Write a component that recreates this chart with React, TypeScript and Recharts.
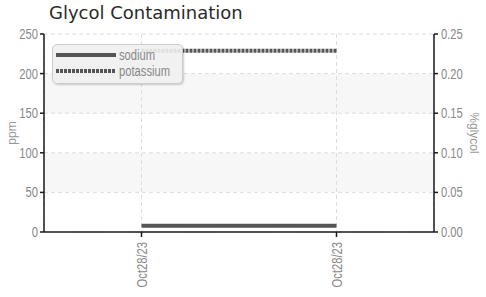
import { LineChart, Line, XAxis, YAxis, CartesianGrid } from 'recharts'

const dates = ['Oct28/23', 'Oct28/23']
const sodium = [8, 8]
const potassium = [229, 229]
const ppmTicks = [0, 50, 100, 150, 200, 250]
const glycolTicks = [0, 0.05, 0.1, 0.15, 0.2, 0.25]

const series = [
  { key: 'sodium', name: 'sodium', dash: undefined as string | undefined },
  { key: 'potassium', name: 'potassium', dash: '3 1' },
]

const data = dates.map((d, i) => ({ idx: i, date: d, sodium: sodium[i], potassium: potassium[i] }))

const tickFont = "'Liberation Sans', Arial, sans-serif"
const squeeze = 0.8
const lineColor = '#555'
const axisColor = '#1a1a1a'

// narrow text: no condensed face installed, so squash a regular one
const NarrowText = ({ x, y, anchor, rotate = 0, children }: any) => (
  <g transform={`translate(${x}, ${y}) rotate(${rotate}) scale(${squeeze}, 1)`}>
    <text x={0} y={0} textAnchor={anchor} fill="#888" fontSize={14} fontFamily={tickFont}>
      {children}
    </text>
  </g>
)

const DateTick = ({ x, y, payload }: any) => (
  <NarrowText x={x + 5} y={y + 3} anchor="end" rotate={-90}>
    {dates[payload.value]}
  </NarrowText>
)

const LeftTick = ({ x, y, payload }: any) => (
  <NarrowText x={x} y={y + 5} anchor="end">
    {payload.value}
  </NarrowText>
)

const RightTick = ({ x, y, payload }: any) => (
  <NarrowText x={x + 1} y={y + 5} anchor="start">
    {Number(payload.value).toFixed(2)}
  </NarrowText>
)

const sideLabel = (text: string, x: number, angle: number) => (props: any) => {
  const vb = props.viewBox
  const cy = vb.y + vb.height / 2
  return (
    <text
      x={x}
      y={cy}
      transform={`rotate(${angle}, ${x}, ${cy})`}
      textAnchor="middle"
      dominantBaseline="central"
      fill="#999"
      fontSize={12}
      fontFamily={tickFont}
    >
      {text}
    </text>
  )
}

export default function App() {
  return (
    <div style={{ position: 'absolute', left: 0, top: 0, width: 486, height: 297, background: '#fff' }}>
      <div
        style={{
          position: 'absolute',
          left: 49,
          top: 2,
          fontFamily: "'DejaVu Sans', sans-serif",
          fontSize: 18,
          color: '#2a2a2a',
          whiteSpace: 'nowrap',
        }}
      >
        Glycol Contamination
      </div>
      <LineChart width={486} height={297} data={data} margin={{ top: 34, right: 0, bottom: 0, left: 0 }}>
        <CartesianGrid
          yAxisId="ppm"
          stroke="#ddd"
          strokeDasharray="4 3"
          horizontalFill={['#fff', '#f7f7f7', '#fff', '#f7f7f7', '#fff']}
          fillOpacity={1}
        />
        <XAxis
          dataKey="idx"
          type="category"
          height={65}
          padding={{ left: 97.5, right: 97.5 }}
          tick={<DateTick />}
          tickSize={5}
          stroke={axisColor}
          strokeWidth={1.5}
          interval={0}
        />
        <YAxis
          yAxisId="ppm"
          width={44}
          domain={[0, 250]}
          ticks={ppmTicks}
          tickSize={4}
          stroke={axisColor}
          strokeWidth={1.5}
          tick={<LeftTick />}
          label={{ content: sideLabel('ppm', 12, -90) }}
        />
        <YAxis
          yAxisId="glycol"
          orientation="right"
          width={52}
          domain={[0, 0.25]}
          allowDataOverflow
          ticks={glycolTicks}
          tickSize={4}
          stroke={axisColor}
          strokeWidth={1.5}
          tick={<RightTick />}
          label={{ content: sideLabel('%glycol', 474, 90) }}
        />
        {series.map((s) => (
          <Line
            key={s.key}
            yAxisId="ppm"
            dataKey={s.key}
            name={s.name}
            stroke={lineColor}
            strokeWidth={4}
            strokeDasharray={s.dash}
            dot={false}
            isAnimationActive={false}
          />
        ))}
      </LineChart>
      <div
        style={{
          position: 'absolute',
          left: 52,
          top: 44,
          width: 129,
          height: 38,
          background: 'rgba(240,240,240,0.9)',
          border: '1px solid #ccc',
          borderRadius: 5,
          boxShadow: '1px 1px 2px rgba(0,0,0,0.2)',
        }}
      >
        {series.map((s, i) => (
          <div key={s.key} style={{ position: 'absolute', left: 3, top: 2 + i * 16, height: 16, display: 'flex', alignItems: 'center' }}>
            <svg width={60} height={6}>
              <line x1={0} y1={3} x2={60} y2={3} stroke={lineColor} strokeWidth={4} strokeDasharray={s.dash} />
            </svg>
            <span
              style={{
                marginLeft: 3,
                fontFamily: tickFont,
                fontSize: 14,
                color: '#888',
                lineHeight: '16px',
                display: 'inline-block',
                transform: `scaleX(${squeeze})`,
                transformOrigin: 'left center',
              }}
            >
              {s.name}
            </span>
          </div>
        ))}
      </div>
    </div>
  )
}
